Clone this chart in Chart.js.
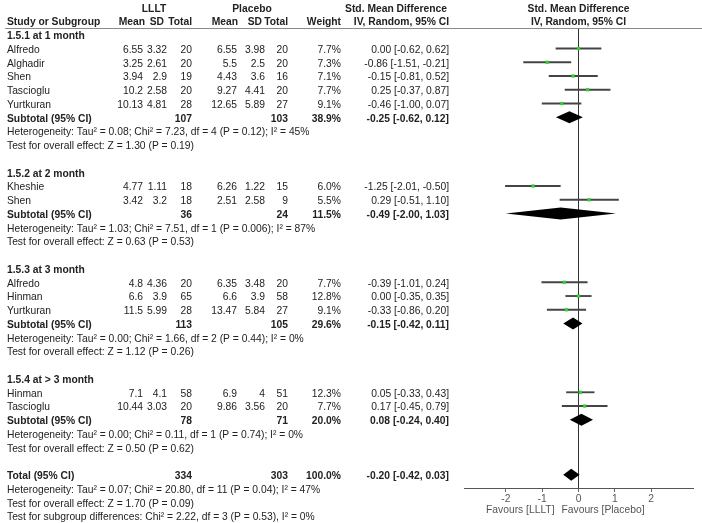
<!DOCTYPE html>
<html>
<head>
<meta charset="utf-8">
<script src="https://cdn.jsdelivr.net/npm/chart.js@4.4.0/dist/chart.umd.min.js"></script>
<style>
  html, body { margin: 0; padding: 0; background: #fff; }
  #wrap { width: 702px; height: 523px; }
</style>
</head>
<body>
<div id="wrap"><canvas id="forest"></canvas></div>
<script>
'use strict';

// studies, in the order they appear
let studyNames = ['Alfredo', 'Alghadir', 'Shen', 'Tascioglu', 'Yurtkuran', 'Kheshie', 'Shen', 'Alfredo', 'Hinman', 'Yurtkuran', 'Hinman', 'Tascioglu'];
let studyGroup = [0, 0, 0, 0, 0, 1, 1, 2, 2, 2, 3, 3];
let llltMean = [6.55, 3.25, 3.94, 10.2, 10.13, 4.77, 3.42, 4.8, 6.6, 11.5, 7.1, 10.44];
let llltSd = [3.32, 2.61, 2.9, 2.58, 4.81, 1.11, 3.2, 4.36, 3.9, 5.99, 4.1, 3.03];
let llltN = [20, 20, 19, 20, 28, 18, 18, 20, 65, 28, 58, 20];
let placeboMean = [6.55, 5.5, 4.43, 9.27, 12.65, 6.26, 2.51, 6.35, 6.6, 13.47, 6.9, 9.86];
let placeboSd = [3.98, 2.5, 3.6, 4.41, 5.89, 1.22, 2.58, 3.48, 3.9, 5.84, 4, 3.56];
let placeboN = [20, 20, 16, 20, 27, 15, 9, 20, 58, 27, 51, 20];
let studyWeight = [7.7, 7.3, 7.1, 7.7, 9.1, 6.0, 5.5, 7.7, 12.8, 9.1, 12.3, 7.7];
let studySmd = [0.00, -0.86, -0.15, 0.25, -0.46, -1.25, 0.29, -0.39, 0.00, -0.33, 0.05, 0.17];
let studyLow = [-0.62, -1.51, -0.81, -0.37, -1.00, -2.01, -0.51, -1.01, -0.35, -0.86, -0.33, -0.45];
let studyHigh = [0.62, -0.21, 0.52, 0.87, 0.07, -0.50, 1.10, 0.24, 0.35, 0.20, 0.43, 0.79];

// subgroups
let groupNames = ['1.5.1 at 1 month', '1.5.2 at 2 month', '1.5.3 at 3 month', '1.5.4 at > 3 month'];
let groupLlltN = [107, 36, 113, 78];
let groupPlaceboN = [103, 24, 105, 71];
let groupWeight = [38.9, 11.5, 29.6, 20.0];
let groupSmd = [-0.25, -0.49, -0.15, 0.08];
let groupLow = [-0.62, -2.00, -0.42, -0.24];
let groupHigh = [0.12, 1.03, 0.11, 0.40];
let groupHetero = [
  'Heterogeneity: Tau\u00b2 = 0.08; Chi\u00b2 = 7.23, df = 4 (P = 0.12); I\u00b2 = 45%',
  'Heterogeneity: Tau\u00b2 = 1.03; Chi\u00b2 = 7.51, df = 1 (P = 0.006); I\u00b2 = 87%',
  'Heterogeneity: Tau\u00b2 = 0.00; Chi\u00b2 = 1.66, df = 2 (P = 0.44); I\u00b2 = 0%',
  'Heterogeneity: Tau\u00b2 = 0.00; Chi\u00b2 = 0.11, df = 1 (P = 0.74); I\u00b2 = 0%'
];
let groupTest = [
  'Test for overall effect: Z = 1.30 (P = 0.19)',
  'Test for overall effect: Z = 0.63 (P = 0.53)',
  'Test for overall effect: Z = 1.12 (P = 0.26)',
  'Test for overall effect: Z = 0.50 (P = 0.62)'
];

// overall
let totalLlltN = 334;
let totalPlaceboN = 303;
let totalWeight = 100.0;
let totalSmd = -0.20;
let totalLow = -0.42;
let totalHigh = 0.03;
let totalNotes = [
  'Heterogeneity: Tau\u00b2 = 0.07; Chi\u00b2 = 20.80, df = 11 (P = 0.04); I\u00b2 = 47%',
  'Test for overall effect: Z = 1.70 (P = 0.09)',
  'Test for subgroup differences: Chi\u00b2 = 2.22, df = 3 (P = 0.53), I\u00b2 = 0%'
];

let xTicks = [-2, -1, 0, 1, 2];
let favourLeft = 'Favours [LLLT]';
let favourRight = 'Favours [Placebo]';

// lay out rows (row index = position on the y scale)
let rows = [];
let r = 0;
for (let g = 0; g < groupNames.length; g++) {
  rows.push({ r: r++, kind: 'group', label: groupNames[g] });
  for (let i = 0; i < studyNames.length; i++) {
    if (studyGroup[i] === g) rows.push({ r: r++, kind: 'study', i: i });
  }
  rows.push({ r: r++, kind: 'subtotal', g: g });
  rows.push({ r: r++, kind: 'note', label: groupHetero[g] });
  rows.push({ r: r++, kind: 'note', label: groupTest[g] });
  r++;
}
rows.push({ r: r++, kind: 'total' });
totalNotes.forEach(function (t) { rows.push({ r: r++, kind: 'note', label: t }); });

let studyRows = rows.filter(function (row) { return row.kind === 'study'; });
let ciData = studyRows.map(function (row) { return { y: row.r, x: [studyLow[row.i], studyHigh[row.i]] }; });
let pointData = studyRows.map(function (row) { return { y: row.r, x: studySmd[row.i] }; });
let diamonds = rows.filter(function (row) { return row.kind === 'subtotal' || row.kind === 'total'; }).map(function (row) {
  if (row.kind === 'total') return { r: row.r, est: totalSmd, lo: totalLow, hi: totalHigh };
  return { r: row.r, est: groupSmd[row.g], lo: groupLow[row.g], hi: groupHigh[row.g] };
});

const FAMILY = '"Liberation Sans", Arial, sans-serif';
const FONT = '10.3px ' + FAMILY;
const BOLD = 'bold 10.3px ' + FAMILY;
const TEXT = '#222';
// right edges of the table columns
let colX = [143, 167, 192, 237, 265, 288, 341, 449];
let headX = [145, 164, 192, 238, 262, 288, 341, 449];

function pct(v) { return v.toFixed(1) + '%'; }
function ci(est, lo, hi) { return est.toFixed(2) + ' [' + lo.toFixed(2) + ', ' + hi.toFixed(2) + ']'; }

function txt(ctx, s, x, y, align, bold) {
  ctx.font = bold ? BOLD : FONT;
  ctx.textAlign = align;
  ctx.fillText(s, x, y);
}

let forestPlugin = {
  id: 'forest',
  afterDatasetsDraw: function (chart) {
    let ctx = chart.ctx;
    let xs = chart.scales.x;
    let ys = chart.scales.y;
    ctx.save();
    ctx.fillStyle = '#000';
    diamonds.forEach(function (d) {
      let cy = ys.getPixelForValue(d.r);
      ctx.beginPath();
      ctx.moveTo(xs.getPixelForValue(d.lo), cy);
      ctx.lineTo(xs.getPixelForValue(d.est), cy - 6);
      ctx.lineTo(xs.getPixelForValue(d.hi), cy);
      ctx.lineTo(xs.getPixelForValue(d.est), cy + 6);
      ctx.closePath();
      ctx.fill();
    });
    ctx.restore();
  },
  afterDraw: function (chart) {
    let ctx = chart.ctx;
    let xs = chart.scales.x;
    let ys = chart.scales.y;
    let zero = xs.getPixelForValue(0);
    ctx.save();
    ctx.fillStyle = TEXT;
    ctx.textBaseline = 'middle';

    // header
    let h1 = ys.getPixelForValue(-2) + 1.5;
    let h2 = ys.getPixelForValue(-1) + 1.5;
    txt(ctx, 'LLLT', 154, h1, 'center', true);
    txt(ctx, 'Placebo', 252, h1, 'center', true);
    txt(ctx, 'Std. Mean Difference', 396, h1, 'center', true);
    txt(ctx, 'Std. Mean Difference', zero, h1, 'center', true);
    txt(ctx, 'Study or Subgroup', 7, h2, 'left', true);
    let heads = ['Mean', 'SD', 'Total', 'Mean', 'SD', 'Total', 'Weight', 'IV, Random, 95% CI'];
    heads.forEach(function (h, k) { txt(ctx, h, headX[k], h2, 'right', true); });
    txt(ctx, 'IV, Random, 95% CI', zero, h2, 'center', true);

    ctx.strokeStyle = '#8a8a8a';
    ctx.lineWidth = 1;
    ctx.beginPath();
    ctx.moveTo(5, chart.chartArea.top + 0.5);
    ctx.lineTo(702, chart.chartArea.top + 0.5);
    ctx.stroke();

    rows.forEach(function (row) {
      let y = ys.getPixelForValue(row.r) + 1.5;
      if (row.kind === 'group') {
        txt(ctx, row.label, 7, y, 'left', true);
      } else if (row.kind === 'note') {
        txt(ctx, row.label, 7, y, 'left', false);
      } else if (row.kind === 'study') {
        let i = row.i;
        txt(ctx, studyNames[i], 7, y, 'left', false);
        let cells = [String(llltMean[i]), String(llltSd[i]), String(llltN[i]), String(placeboMean[i]),
          String(placeboSd[i]), String(placeboN[i]), pct(studyWeight[i]), ci(studySmd[i], studyLow[i], studyHigh[i])];
        cells.forEach(function (c, k) { txt(ctx, c, colX[k], y, 'right', false); });
      } else if (row.kind === 'subtotal') {
        let g = row.g;
        txt(ctx, 'Subtotal (95% CI)', 7, y, 'left', true);
        txt(ctx, String(groupLlltN[g]), colX[2], y, 'right', true);
        txt(ctx, String(groupPlaceboN[g]), colX[5], y, 'right', true);
        txt(ctx, pct(groupWeight[g]), colX[6], y, 'right', true);
        txt(ctx, ci(groupSmd[g], groupLow[g], groupHigh[g]), colX[7], y, 'right', true);
      } else if (row.kind === 'total') {
        txt(ctx, 'Total (95% CI)', 7, y, 'left', true);
        txt(ctx, String(totalLlltN), colX[2], y, 'right', true);
        txt(ctx, String(totalPlaceboN), colX[5], y, 'right', true);
        txt(ctx, pct(totalWeight), colX[6], y, 'right', true);
        txt(ctx, ci(totalSmd, totalLow, totalHigh), colX[7], y, 'right', true);
      }
    });

    // favours labels under the axis
    ctx.fillStyle = '#555';
    let fy = chart.chartArea.bottom + 22;
    txt(ctx, favourLeft, zero - 24, fy, 'right', false);
    txt(ctx, favourRight, zero - 17, fy, 'left', false);
    ctx.restore();
  }
};

let ctx = document.getElementById('forest').getContext('2d');
let forestChart = new Chart(ctx, {
  type: 'scatter',
  data: {
    datasets: [{
      type: 'scatter',
      order: 0,
      data: pointData,
      pointStyle: 'rect',
      pointRadius: 2.3,
      borderWidth: 0,
      backgroundColor: '#2fd12f'
    }, {
      type: 'bar',
      order: 1,
      indexAxis: 'y',
      data: ciData,
      backgroundColor: '#444',
      borderWidth: 0,
      barThickness: 1.2
    }]
  },
  options: {
    responsive: true,
    maintainAspectRatio: false,
    animation: false,
    layout: { padding: { left: 464, right: 9, top: 28, bottom: 0 } },
    plugins: { legend: { display: false }, tooltip: { enabled: false } },
    scales: {
      x: {
        type: 'linear',
        min: -3.15,
        max: 3.15,
        afterBuildTicks: function (s) { s.ticks = xTicks.map(function (v) { return { value: v }; }); },
        afterFit: function (s) { s.height = 35; },
        grid: {
          color: function (c) { return (c.tick && c.tick.value === 0) ? '#333' : 'rgba(0,0,0,0)'; },
          tickColor: '#666',
          tickLength: 4
        },
        border: { display: true, color: '#555' },
        ticks: { color: '#555', padding: 1, font: { size: 10.3, family: FAMILY } }
      },
      y: {
        type: 'linear',
        display: false,
        offset: false,
        reverse: true,
        min: -0.49,
        max: 32.96
      }
    }
  },
  plugins: [forestPlugin]
});
</script>
</body>
</html>
